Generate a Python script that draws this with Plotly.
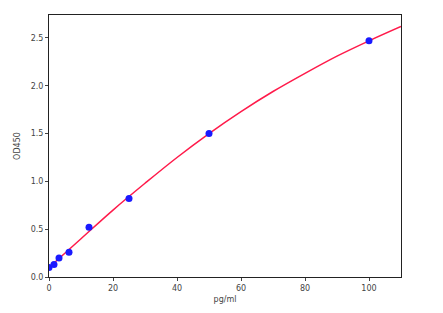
import plotly.graph_objects as go

conc = [0, 1.56, 3.125, 6.25, 12.5, 25, 50, 100]
od = [0.10, 0.13, 0.20, 0.26, 0.52, 0.82, 1.50, 2.47]

fit_x = [0, 10, 20, 30, 40, 50, 60, 70, 80, 90, 100, 110]
fit_y = [0.10, 0.40, 0.70, 0.98, 1.25, 1.50, 1.73, 1.94, 2.13, 2.31, 2.47, 2.62]

x_ticks = [0, 20, 40, 60, 80, 100]
y_ticks = [0.0, 0.5, 1.0, 1.5, 2.0, 2.5]

fig = go.Figure()
fig.add_trace(go.Scatter(x=fit_x, y=fit_y, mode="lines", line=dict(color="#ff1a4a", width=1.5, shape="spline"), hoverinfo="skip"))
fig.add_trace(go.Scatter(x=conc, y=od, mode="markers", marker=dict(color="#1a1aff", size=7)))

axis_common = dict(showline=True, linecolor="#222", linewidth=1, mirror=True, ticks="outside", ticklen=3,
                   tickcolor="#444", showgrid=False, zeroline=False,
                   tickfont=dict(family="DejaVu Sans", size=8, color="#444"))
fig.update_layout(
    width=443, height=313, margin=dict(l=49, r=42, t=15, b=36),
    plot_bgcolor="white", paper_bgcolor="white", showlegend=False,
    xaxis=dict(range=[0, 110], tickvals=x_ticks, ticktext=[str(v) for v in x_ticks],
               title=dict(text="pg/ml", font=dict(family="DejaVu Sans", size=8, color="#444"), standoff=4), **axis_common),
    yaxis=dict(range=[0, 2.74], tickvals=y_ticks, ticktext=[f"{v:.1f}" for v in y_ticks],
               title=dict(text="OD450", font=dict(family="DejaVu Sans", size=8, color="#444"), standoff=8), **axis_common),
)
fig.write_html("out.html")
